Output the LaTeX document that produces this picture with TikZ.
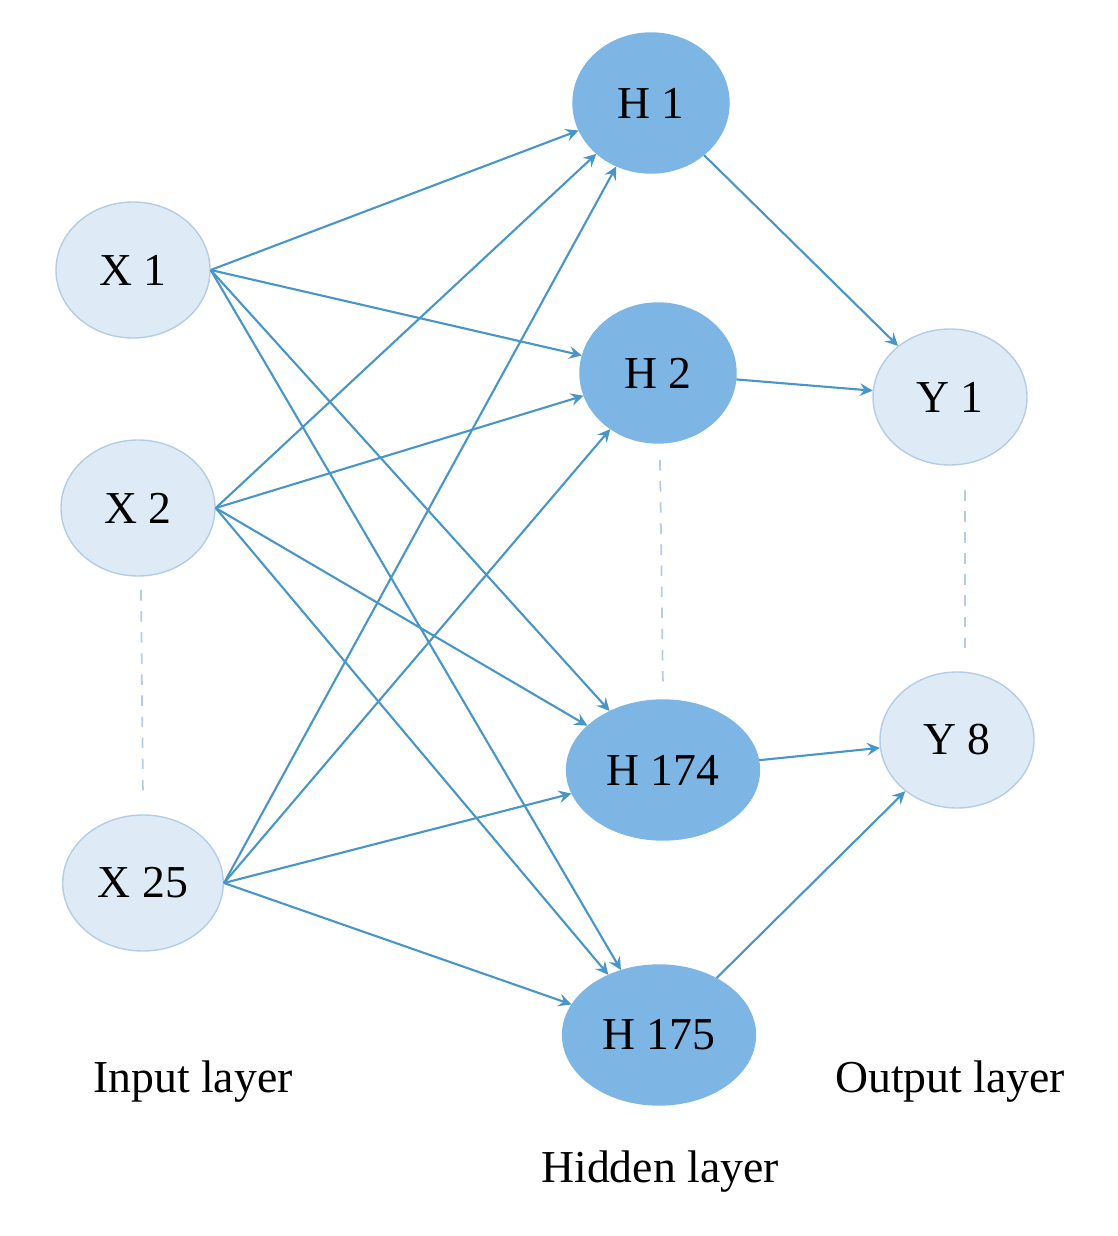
\documentclass[tikz,border=0pt]{standalone}
\usepackage{fontspec}
\setmainfont{Liberation Serif}
\usetikzlibrary{arrows, calc, shapes.geometric}
\definecolor{lightfill}{RGB}{222,235,247}
\definecolor{lightdraw}{RGB}{180,205,228}
\definecolor{darkfill}{RGB}{125,182,228}
\definecolor{edgecol}{RGB}{72,150,200}
\tikzset{
  inp/.style={ellipse, draw=lightdraw, fill=lightfill, minimum width=1.54cm, minimum height=1.36cm, font=\fontsize{13}{15}\selectfont},
  hid/.style={ellipse, draw=darkfill, fill=darkfill, minimum width=1.56cm, minimum height=1.40cm, font=\fontsize{13}{15}\selectfont},
  conn/.style={->, >=stealth, draw=edgecol, line width=0.6pt},
  dots/.style={dashed, draw=lightdraw, line width=0.5pt},
  lbl/.style={font=\fontsize{13}{15}\selectfont}
}
\begin{document}
\begin{tikzpicture}
  \useasboundingbox (0,0) rectangle (11.17,-12.36);
  % Define nodes
  \node[inp] (X1) at (1.33,-2.70) {X 1};
  \node[inp] (X2) at (1.38,-5.08) {X 2};
  \node[inp] (X25) at (1.43,-8.83) {X 25};
  \node[hid] (H1) at (6.51,-1.03) {H 1};
  \node[hid] (H2) at (6.58,-3.73) {H 2};
  \node[hid] (H174) at (6.63,-7.70) {H 174};
  \node[hid] (H175) at (6.59,-10.35) {H 175};
  \node[inp] (Y1) at (9.50,-3.97) {Y 1};
  \node[inp] (Y8) at (9.57,-7.40) {Y 8};
  \node[lbl] (LI) at (1.93,-10.82) {Input layer};
  \node[lbl] (LH) at (6.60,-11.72) {Hidden layer};
  \node[lbl] (LO) at (9.50,-10.82) {Output layer};

  % Dashed gaps
  \draw[dots] (1.41,-5.90) -- (1.43,-8.00);
  \draw[dots] (6.60,-4.60) -- (6.63,-6.90);
  \draw[dots] (9.65,-4.90) -- (9.65,-6.55);

  % Draw edges
  \foreach \s in {X1,X2,X25}
    \foreach \t in {H1,H2,H174,H175}
      \draw[conn] (\s.east) -- (\t);
  \draw[conn] (H1) -- (Y1);
  \draw[conn] (H2) -- (Y1);
  \draw[conn] (H174) -- (Y8);
  \draw[conn] (H175) -- (Y8);
\end{tikzpicture}
\end{document}
